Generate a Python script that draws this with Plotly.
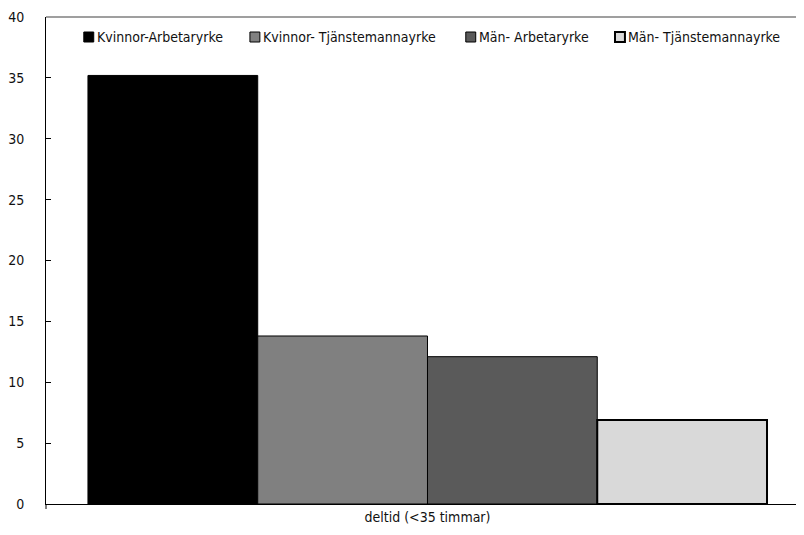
import plotly.graph_objects as go

categories = ["deltid (<35 timmar)"]
series_names = ["Kvinnor-Arbetaryrke", "Kvinnor- Tjänstemannayrke", "Män- Arbetaryrke", "Män- Tjänstemannayrke"]
series_values = [[35.2], [13.8], [12.1], [6.9]]
series_colors = ["#000000", "#808080", "#5a5a5a", "#d9d9d9"]
series_line_widths = [1, 1, 1, 2]
y_ticks = [0, 5, 10, 15, 20, 25, 30, 35, 40]

FONT = "DejaVu Sans Condensed, Liberation Sans Narrow, sans-serif"

# page body margin offset (browser default 8px)
OFF = 8
W, H = 804 - OFF, 535 - OFF
ML, MR, MT, MB = 42 - OFF, 0, 17 - OFF, 31
PW = W - ML - MR
PH = H - MT - MB

def px2paper_x(px):
    # px given in page coordinates
    return (px - OFF - ML) / PW

def px2paper_y(py):
    return (H - MB - (py - OFF)) / PH

fig = go.Figure()
for name, vals, col, lw in zip(series_names, series_values, series_colors, series_line_widths):
    fig.add_trace(go.Bar(
        x=categories, y=vals, name=name,
        marker=dict(color=col, line=dict(color="#000000", width=lw)),
        showlegend=False,
    ))

shapes = []
annotations = []
# top border line
shapes.append(dict(type="line", xref="paper", yref="paper", x0=0, x1=1, y0=1, y1=1,
                   line=dict(color="#7f7f7f", width=1.5)))
# small category tick at left edge
shapes.append(dict(type="line", xref="paper", yref="paper", x0=0, x1=0, y0=0, y1=-5 / PH,
                   line=dict(color="#000000", width=1)))

# manual legend
legend_sq_x = [80, 247, 464, 614]
sq = 10
leg_y = 37
for name, col, lw, sx in zip(series_names, series_colors, series_line_widths, legend_sq_x):
    shapes.append(dict(type="rect", xref="paper", yref="paper",
                       x0=px2paper_x(sx), x1=px2paper_x(sx + sq),
                       y0=px2paper_y(leg_y + sq / 2), y1=px2paper_y(leg_y - sq / 2),
                       fillcolor=col, line=dict(color="#000000", width=lw)))
    annotations.append(dict(xref="paper", yref="paper", x=px2paper_x(sx + sq + 1), y=px2paper_y(leg_y),
                            text=name, showarrow=False, xanchor="left", yanchor="middle",
                            font=dict(family=FONT, size=14, color="#111111")))

# category width in pixels = 767 (centre of category at page x 425.5)
cat_px = 767.0

fig.update_layout(
    width=W, height=H,
    margin=dict(l=ML, r=MR, t=MT, b=MB),
    paper_bgcolor="white", plot_bgcolor="white",
    barmode="group", bargap=0.11, bargroupgap=0,
    font=dict(family=FONT, size=14, color="#111111"),
    shapes=shapes, annotations=annotations,
    xaxis=dict(
        range=[-0.5, -0.5 + PW / cat_px],
        showgrid=False, zeroline=False,
        showline=True, linecolor="#000000", linewidth=1,
        ticks="", tickfont=dict(family=FONT, size=14, color="#111111"),
        fixedrange=True,
    ),
    yaxis=dict(
        range=[0, 40], tickvals=y_ticks, ticktext=[str(v) for v in y_ticks],
        showgrid=False, zeroline=False,
        showline=True, linecolor="#000000", linewidth=1,
        ticks="inside", ticklen=5, tickcolor="#000000",
        ticklabelstandoff=18,
        tickfont=dict(family=FONT, size=14, color="#111111"),
    ),
)

fig.write_html("out.html")
